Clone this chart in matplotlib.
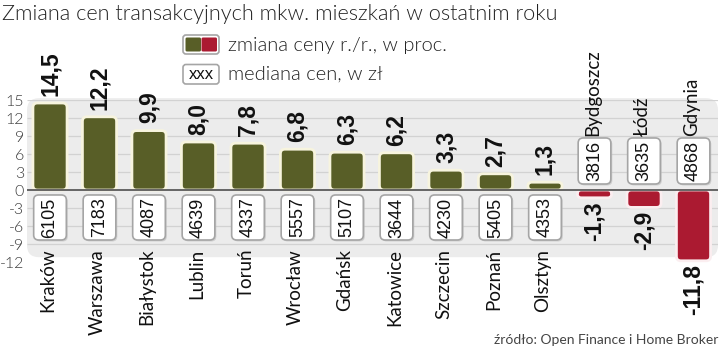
import matplotlib
matplotlib.use('Agg')
import matplotlib.pyplot as plt
from matplotlib.patches import FancyBboxPatch
from matplotlib import font_manager as fm

cities = ['Kraków', 'Warszawa', 'Białystok', 'Lublin', 'Toruń', 'Wrocław', 'Gdańsk',
          'Katowice', 'Szczecin', 'Poznań', 'Olsztyn', 'Bydgoszcz', 'Łódź', 'Gdynia']
change = [14.5, 12.2, 9.9, 8.0, 7.8, 6.8, 6.3, 6.2, 3.3, 2.7, 1.3, -1.3, -2.9, -11.8]
median = [6105, 7183, 4087, 4639, 4337, 5557, 5107, 3644, 4230, 5405, 4353, 3816, 3635, 4868]
yticks = [15, 12, 9, 6, 3, 0, -3, -6, -9, -12]

title = 'Zmiana cen transakcyjnych mkw. mieszkań w ostatnim roku'
legend1 = 'zmiana ceny r./r., w proc.'
legend2 = 'mediana cen, w zł'
source = 'źródło: Open Finance i Home Broker'

plt.rcParams['axes.unicode_minus'] = False

# ---- font detection
avail = {}
for f in fm.fontManager.ttflist:
    w = f.weight
    if isinstance(w, str):
        w = fm.weight_dict.get(w, 400)
    avail.setdefault(f.name, set()).add(int(w))

LIGHT, LW = 'DejaVu Sans', 'normal'
for n in ['Lato', 'Roboto', 'Open Sans', 'Inter', 'Noto Sans']:
    if n in avail and any(w <= 300 for w in avail[n]):
        LIGHT, LW = n, 300
        break
BOLD = 'Liberation Sans' if 'Liberation Sans' in avail else 'DejaVu Sans'
NARROW = 'Liberation Sans Narrow' if 'Liberation Sans Narrow' in avail else None

GREEN = '#585e27'
RED = '#ab1a31'
PANEL = '#ececec'
GRID = '#d2d2d2'

W, H = 721, 350
fig = plt.figure(figsize=(W / 100, H / 100), dpi=100)
fig.patch.set_facecolor('white')


def P(x, y):
    return (x / 100, (H - y) / 100)


pt = fig.dpi_scale_trans

ax_l, ax_r, ax_t, ax_b = 27, 718, 100, 262
ax = fig.add_axes([ax_l / W, (H - ax_b) / H, (ax_r - ax_l) / W, (ax_b - ax_t) / H])
xlim = (-23 / 49.5, 668 / 49.5)
ylim = (-12, 15)
ax.set_xlim(*xlim)
ax.set_ylim(*ylim)
ax.patch.set_visible(False)
for s in ax.spines.values():
    s.set_visible(False)
ax.set_xticks([])
ax.set_yticks(yticks)
ax.set_yticklabels([str(t) for t in yticks])
ax.tick_params(axis='y', length=0, pad=2, labelsize=11.5, labelcolor='#3a3a3a')
for lbl in ax.get_yticklabels():
    lbl.set_fontfamily(LIGHT)
    lbl.set_fontweight(LW)

pxx = (ax_r - ax_l) / (xlim[1] - xlim[0])
pxy = (ax_b - ax_t) / (ylim[1] - ylim[0])
asp = pxx / pxy

# panel
p_top, p_bot = 15.3, -11.2
panel = FancyBboxPatch((xlim[0], p_bot), xlim[1] - xlim[0], p_top - p_bot,
                       boxstyle='round,pad=0,rounding_size=%f' % (12 / pxx),
                       mutation_aspect=asp, fc=PANEL, ec='none', zorder=0, clip_on=False)
ax.add_patch(panel)
gl = [t for t in yticks if t not in (0, -12)]
ax.hlines(gl, xlim[0], xlim[1], colors=GRID, lw=0.9, zorder=1)
ax.hlines([0], xlim[0], xlim[1], colors='#5a5a5a', lw=1.3, zorder=4)

x = list(range(len(cities)))
bars = ax.bar(x, change, width=0.69, color=[GREEN if v >= 0 else RED for v in change])
for b, v in zip(bars, change):
    bb = b.get_bbox()
    b.set_visible(False)
    y0 = min(bb.y0, bb.y1)
    hgt = abs(bb.y1 - bb.y0)
    ec = '#f7f4de' if v >= 0 else '#fbeef0'
    rs = min(4.5 / pxx, hgt * pxy / pxx / 2.0)
    fp = FancyBboxPatch((bb.x0, y0), bb.x1 - bb.x0, hgt,
                        boxstyle='round,pad=0,rounding_size=%f' % rs,
                        mutation_aspect=asp, fc=b.get_facecolor(), ec=ec, lw=2.0,
                        zorder=3, clip_on=False)
    ax.add_patch(fp)

# value labels
for i, v in enumerate(change):
    s = ('%.1f' % v).replace('.', ',')
    if v >= 0:
        ax.text(i, v + 1.2, s, rotation=90, ha='center', va='bottom', fontsize=16.5,
                fontweight='bold', family=BOLD, color='#111111', zorder=5)
    else:
        ax.text(i, v - 0.6, s, rotation=90, ha='center', va='top', fontsize=16.5,
                fontweight='bold', family=BOLD, color='#111111', zorder=5, clip_on=False)

# median boxes
bw = 0.66
for i, (v, m) in enumerate(zip(change, median)):
    if v >= 0:
        y0, y1 = -8.33, -0.83
    else:
        y0, y1 = 1.0, 8.67
    sh = FancyBboxPatch((i - bw / 2 + 1.5 / pxx, y0 - 1.5 / pxy), bw, y1 - y0,
                        boxstyle='round,pad=0,rounding_size=%f' % (5 / pxx),
                        mutation_aspect=asp, fc='#bdbdbd', ec='none', zorder=3, alpha=0.6)
    ax.add_patch(sh)
    bx = FancyBboxPatch((i - bw / 2, y0), bw, y1 - y0,
                        boxstyle='round,pad=0,rounding_size=%f' % (5 / pxx),
                        mutation_aspect=asp, fc='white', ec='#a5a5a5', lw=1.2, zorder=3)
    ax.add_patch(bx)
    if NARROW:
        ax.text(i, (y0 + y1) / 2, str(m), rotation=90, ha='center', va='center',
                fontsize=15, family=NARROW, color='#111111', zorder=5)
    else:
        ax.text(i, (y0 + y1) / 2, str(m), rotation=90, ha='center', va='center',
                fontsize=13, family=BOLD, color='#111111', zorder=5)

# city labels
for i, (v, c) in enumerate(zip(change, cities)):
    if v >= 0:
        ax.text(i - 0.04, -9.8, c, rotation=90, ha='center', va='top', fontsize=13.5,
                family=LIGHT, fontweight='normal', color='#111111', zorder=6, clip_on=False)
    else:
        ax.text(i - 0.04, 9.0, c, rotation=90, ha='center', va='bottom', fontsize=13.5,
                family=LIGHT, fontweight='normal', color='#111111', zorder=6, clip_on=False)

# title
fig.text(*P(2, 14), title, transform=pt, ha='left', va='center', fontsize=15.7,
         family=LIGHT, fontweight=LW, color='#222222')

# legend
lg1 = FancyBboxPatch(P(183, 54), 0.36, 0.19, boxstyle='round,pad=0,rounding_size=0.03',
                     transform=pt, fc='white', ec='#a5a5a5', lw=1.2)
fig.patches.append(lg1)
fig.patches.append(FancyBboxPatch(P(185.5, 51.5), 0.155, 0.14,
                                  boxstyle='round,pad=0,rounding_size=0.015',
                                  transform=pt, fc=GREEN, ec='none'))
fig.patches.append(FancyBboxPatch(P(201.5, 51.5), 0.155, 0.14,
                                  boxstyle='round,pad=0,rounding_size=0.015',
                                  transform=pt, fc=RED, ec='none'))
lg2 = FancyBboxPatch(P(183, 84), 0.36, 0.195, boxstyle='round,pad=0,rounding_size=0.03',
                     transform=pt, fc='white', ec='#a5a5a5', lw=1.2)
fig.patches.append(lg2)
fig.text(*P(201, 74.5), 'xxx', transform=pt, ha='center', va='center', fontsize=12,
         family=NARROW if NARROW else BOLD, color='#111111')
fig.text(*P(228, 45), legend1, transform=pt, ha='left', va='center', fontsize=14.5,
         family=LIGHT, fontweight=LW, color='#222222')
fig.text(*P(228, 74), legend2, transform=pt, ha='left', va='center', fontsize=14.5,
         family=LIGHT, fontweight=LW, color='#222222')

fig.text(*P(718, 340), source, transform=pt, ha='right', va='center', fontsize=10,
         family=NARROW if NARROW else LIGHT, fontweight='normal', color='#444444')

fig.savefig('out.png', dpi=100, facecolor='white')
